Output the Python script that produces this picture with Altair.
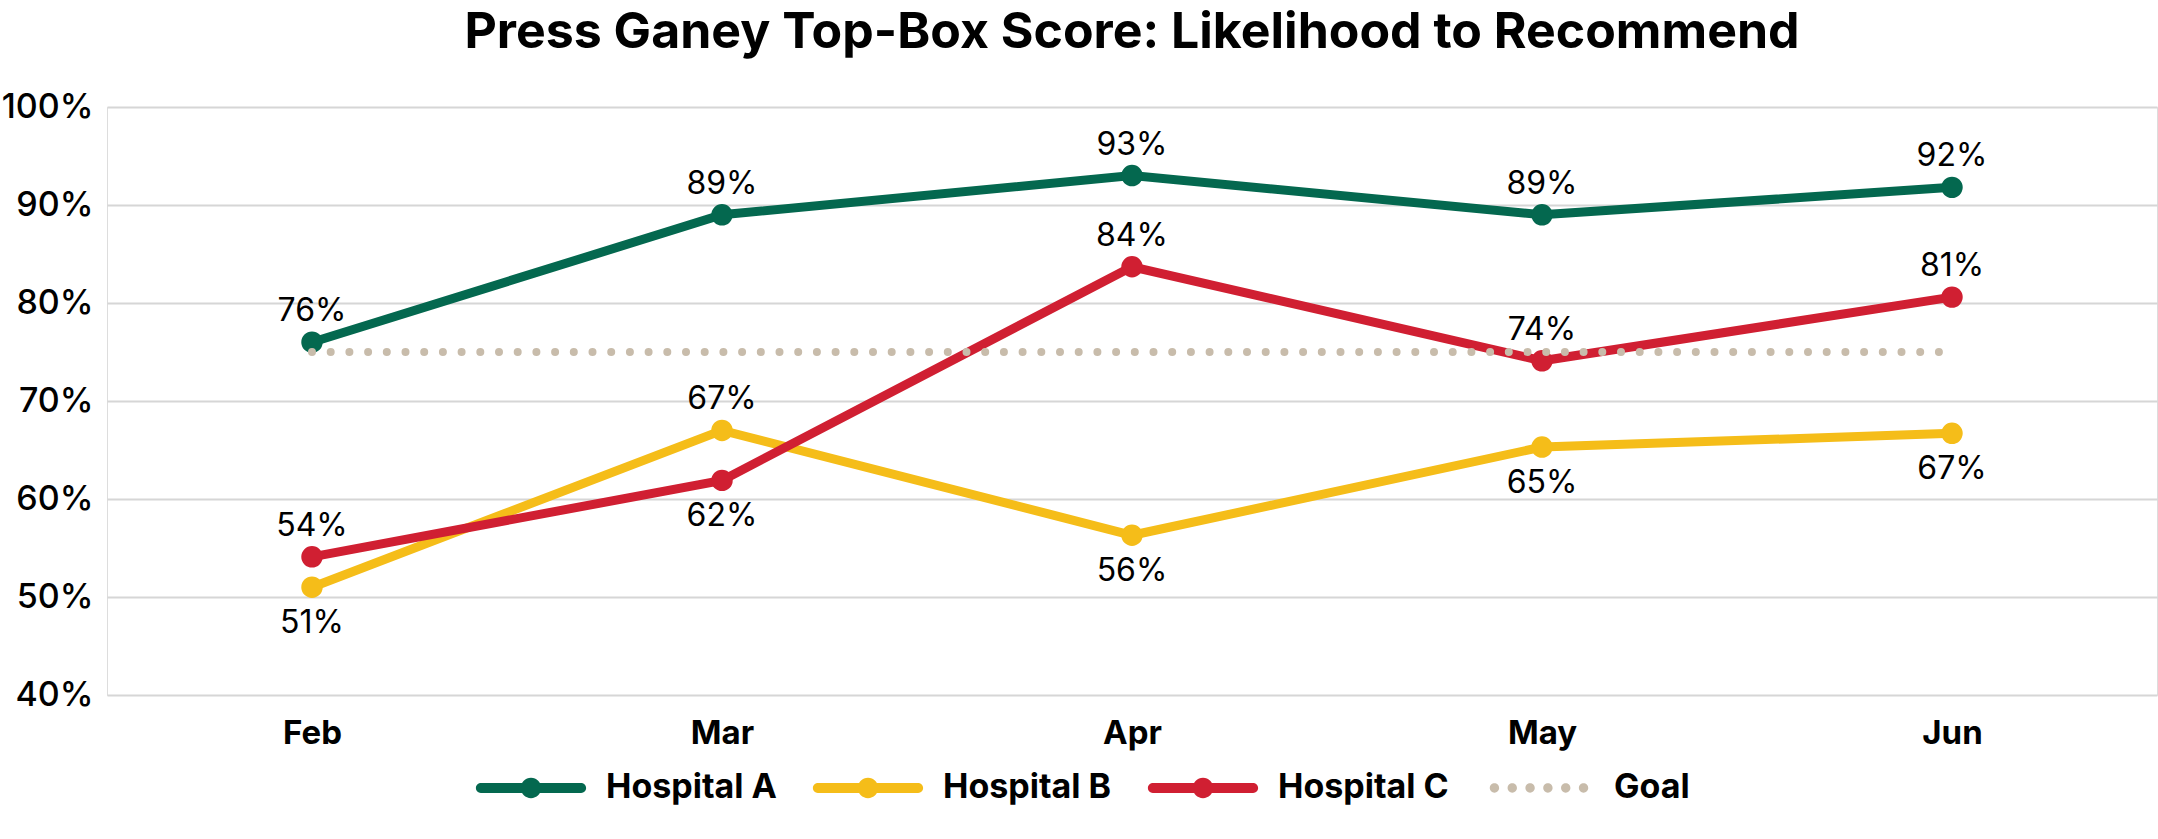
import altair as alt
import pandas as pd

# ---- data ----
months = ["Feb", "Mar", "Apr", "May", "Jun"]
series_names = ["Hospital A", "Hospital B", "Hospital C"]
hospital_a = [76.0, 89.0, 93.0, 89.0, 91.8]
hospital_b = [51.0, 67.0, 56.3, 65.3, 66.7]
hospital_c = [54.1, 61.9, 83.7, 74.1, 80.6]
goal_value = 75
legend_items = ["Hospital A", "Hospital B", "Hospital C", "Goal"]
colors = ["#04684f", "#f5bd19", "#d01f32", "#c8bcab"]
y_ticks = [40, 50, 60, 70, 80, 90, 100]
title_text = "Press Ganey Top-Box Score: Likelihood to Recommend"

rows = []
for name, vals in zip(series_names, [hospital_a, hospital_b, hospital_c]):
    for i, (m, v) in enumerate(zip(months, vals)):
        rows.append({"series": name, "month": m, "idx": i, "value": v,
                     "label": f"{round(v)}%"})
df = pd.DataFrame(rows)
goal_df = pd.DataFrame({"month": months, "idx": list(range(len(months))),
                        "value": [goal_value] * len(months)})
legend_df = pd.DataFrame({"series": legend_items})

FONT = "Inter"

x_enc = alt.X("month:N", sort=months, scale=alt.Scale(domain=months), title=None,
              axis=alt.Axis(labelFont=FONT, labelFontSize=33, labelFontWeight="bold",
                            labelColor="black", labelPadding=22, labelAngle=0,
                            domain=False, ticks=False, grid=False))
y_enc = alt.Y("value:Q", scale=alt.Scale(domain=[40, 100], nice=False, zero=False), title=None,
              axis=alt.Axis(values=y_ticks, labelExpr="datum.value + '%'",
                            labelFont=FONT, labelFontSize=34, labelFontWeight=500,
                            labelColor="black", labelPadding=14,
                            domain=False, ticks=False, grid=True,
                            gridColor="#d6d6d6", gridWidth=2))
# the hospitals-only scale (used by the drawn lines/points, no legend)
hosp_scale = alt.Scale(domain=series_names, range=colors[:3])
# the full legend scale (hospitals + goal)
legend_color_scale = alt.Scale(domain=legend_items, range=colors)

cap_path = ("M-0.912,-0.09 L0.912,-0.09 A0.09,0.09 0 0 1 0.912,0.09 L-0.912,0.09 "
            "A0.09,0.09 0 0 1 -0.912,-0.09 Z "
            "M0.185,0 A0.185,0.185 0 1 1 -0.185,0 A0.185,0.185 0 1 1 0.185,0 Z")
dot_parts = []
for cx in [-0.81, -0.486, -0.162, 0.162, 0.486, 0.81]:
    r = 0.085
    dot_parts.append(f"M{cx + r:.3f},0 A{r},{r} 0 1 1 {cx - r:.3f},0 A{r},{r} 0 1 1 {cx + r:.3f},0 Z")
dots_path = " ".join(dot_parts)
shape_scale = alt.Scale(domain=legend_items, range=[cap_path, cap_path, cap_path, dots_path])

base = alt.Chart(df)

lines = base.mark_line(strokeWidth=9).encode(
    x=x_enc, y=y_enc,
    stroke=alt.Stroke("series:N", scale=hosp_scale, legend=None),
    order="idx:Q",
)
points = base.mark_circle(size=460, opacity=1).encode(
    x=x_enc, y=y_enc,
    fill=alt.Fill("series:N", scale=hosp_scale, legend=None),
)
goal = alt.Chart(goal_df).mark_line(
    color=colors[3], strokeWidth=8, strokeDash=[0, 18.7], strokeCap="round"
).encode(x=x_enc, y=y_enc, order="idx:Q")

labels_above = base.transform_joinaggregate(
    minv="min(value)", groupby=["month"]
).transform_filter("datum.value > datum.minv").mark_text(
    dy=-31, font=FONT, fontSize=32, color="black"
).encode(x=x_enc, y=y_enc, text="label:N")

labels_below = base.transform_joinaggregate(
    minv="min(value)", groupby=["month"]
).transform_filter("datum.value <= datum.minv").mark_text(
    dy=36, font=FONT, fontSize=32, color="black"
).encode(x=x_enc, y=y_enc, text="label:N")

leg = alt.Legend(title=None, orient="none", legendX=369, legendY=626,
                 direction="horizontal", symbolSize=12100, symbolStrokeWidth=0,
                 symbolOpacity=1, labelFont=FONT, labelFontSize=34,
                 labelFontWeight="bold", labelColor="black", labelOffset=20,
                 labelLimit=400, columnPadding=35, padding=0)
legend_layer = alt.Chart(legend_df).mark_point(filled=True, opacity=0).encode(
    color=alt.Color("series:N", scale=legend_color_scale, legend=leg, title=None),
    shape=alt.Shape("series:N", scale=shape_scale, legend=leg, title=None),
)

chart = alt.layer(lines, points, goal, labels_above, labels_below, legend_layer).properties(
    width=2050, height=588,
    padding={"left": 107, "top": 107, "right": 1, "bottom": 144},
    autosize="none",
    title=alt.TitleParams(title_text, font=FONT, fontSize=50, fontWeight="bold",
                          color="black", anchor="middle", frame="group", offset=32),
).configure_view(stroke=None).configure(background="white")

chart.save("out.html", embed_options={"renderer": "svg", "actions": False})
